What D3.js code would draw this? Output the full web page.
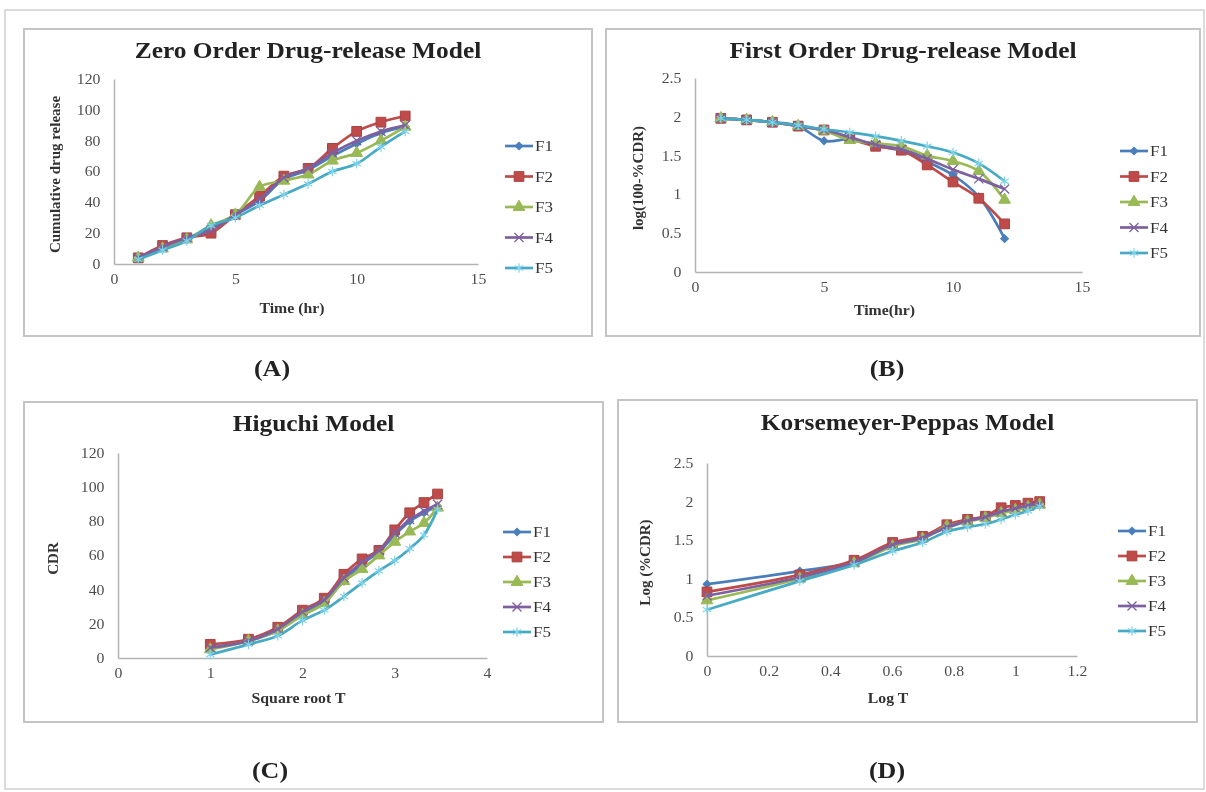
<html lang="en">
  <head>
    <title>Drug release kinetics models</title>
    <script src="https://d3js.org/d3.v7.min.js"></script>
    <style>
      body { margin: 0; background: #fff; }
      svg text { font-family: 'Liberation Serif', 'Times New Roman', serif; }
    </style>
  </head>
  <body>
    <div id="container"></div>
    <script>
      // series names + colours (Excel 2007 palette)
      const seriesNames = ['F1', 'F2', 'F3', 'F4', 'F5']
      const lineColors = ['#4A7EBB', '#BE4B48', '#98B954', '#7D60A0', '#46AAC5']
      const markerTypes = ['diamond', 'square', 'triangle', 'times', 'star']

      // x values
      const timeHr = [1, 2, 3, 4, 5, 6, 7, 8, 9, 10, 11, 12]
      const sqrtTime = [1, 1.414, 1.732, 2, 2.236, 2.449, 2.646, 2.828, 3, 3.162, 3.317, 3.464]
      const logTime = [0, 0.301, 0.477, 0.602, 0.699, 0.778, 0.845, 0.903, 0.954, 1.0, 1.041, 1.079]

      // (A) zero order: cumulative drug release vs time, rows F1..F5
      const zeroOrder = [
        [4, 10, 16, 23, 32, 41, 55, 61, 70, 78, 85, 89],
        [4, 12, 17, 20, 32, 44, 57, 62, 75, 86, 92, 96],
        [4, 10, 16, 25, 32, 50, 54, 58, 67, 72, 80, 89],
        [4, 11, 17, 22, 32, 42, 56, 62, 72, 80, 86, 90],
        [3, 9, 15, 25, 30, 38, 45, 52, 60, 65, 76, 86]
      ]
      // (B) first order: log(100-%CDR) vs time
      const firstOrder = [
        [1.98, 1.96, 1.93, 1.88, 1.69, 1.71, 1.63, 1.56, 1.42, 1.25, 0.97, 0.43],
        [1.98, 1.96, 1.93, 1.88, 1.83, 1.72, 1.62, 1.57, 1.38, 1.16, 0.95, 0.62],
        [1.98, 1.96, 1.93, 1.88, 1.82, 1.70, 1.66, 1.62, 1.50, 1.43, 1.30, 0.93],
        [1.98, 1.96, 1.93, 1.88, 1.83, 1.74, 1.64, 1.58, 1.46, 1.32, 1.20, 1.07],
        [1.98, 1.96, 1.93, 1.89, 1.84, 1.80, 1.75, 1.69, 1.62, 1.54, 1.40, 1.17]
      ]
      // (C) Higuchi: CDR vs square root of time
      const higuchi = [
        [6, 10, 16, 26, 33, 45, 55, 62, 72, 80, 85, 89],
        [8, 11, 18, 28, 35, 49, 58, 63, 75, 85, 91, 96],
        [5, 10, 16, 25, 32, 45, 52, 60, 68, 74, 79, 88],
        [6, 10, 17, 27, 34, 47, 56, 63, 73, 81, 86, 90],
        [2, 8, 13, 22, 28, 36, 44, 51, 57, 64, 72, 87]
      ]
      // (D) Korsmeyer-Peppas: log(%CDR) vs log T
      const peppas = [
        [0.93, 1.10, 1.22, 1.45, 1.54, 1.66, 1.75, 1.80, 1.86, 1.90, 1.94, 1.96],
        [0.83, 1.05, 1.24, 1.47, 1.55, 1.70, 1.77, 1.81, 1.92, 1.95, 1.98, 2.00],
        [0.72, 1.00, 1.20, 1.42, 1.52, 1.68, 1.74, 1.79, 1.85, 1.89, 1.93, 1.96],
        [0.78, 1.02, 1.21, 1.44, 1.53, 1.67, 1.75, 1.80, 1.87, 1.91, 1.95, 1.97],
        [0.60, 0.97, 1.18, 1.36, 1.47, 1.61, 1.67, 1.71, 1.77, 1.83, 1.88, 1.94]
      ]

      // axis ticks
      const ticksTime = [0, 5, 10, 15]
      const ticksCdr = [0, 20, 40, 60, 80, 100, 120]
      const ticksLog = [0, 0.5, 1, 1.5, 2, 2.5]
      const ticksSqrt = [0, 1, 2, 3, 4]
      const ticksLogT = [0, 0.2, 0.4, 0.6, 0.8, 1, 1.2]

      const panels = [
        { label: '(A)', title: 'Zero Order Drug-release Model', xTitle: 'Time (hr)', yTitle: 'Cumulative  drug  release',
          xs: timeHr, ys: zeroOrder, xTicks: ticksTime, yTicks: ticksCdr,
          box: [24, 29, 568, 307], plot: [114, 478, 264, 79], titleY: 58, xTitleY: 313, yTitleX: 60,
          legend: [505, 146, 30.5], labelPos: [272, 376] },
        { label: '(B)', title: 'First Order Drug-release Model', xTitle: 'Time(hr)', yTitle: 'log(100-%CDR)',
          xs: timeHr, ys: firstOrder, xTicks: ticksTime, yTicks: ticksLog,
          box: [606, 29, 594, 307], plot: [695, 1082, 272, 78], titleY: 58, xTitleY: 315, yTitleX: 643,
          legend: [1120, 151, 25.5], labelPos: [887, 376] },
        { label: '(C)', title: 'Higuchi Model', xTitle: 'Square root T', yTitle: 'CDR',
          xs: sqrtTime, ys: higuchi, xTicks: ticksSqrt, yTicks: ticksCdr,
          box: [24, 402, 579, 320], plot: [118, 487, 658, 453], titleY: 431, xTitleY: 703, yTitleX: 58,
          legend: [503, 532, 25], labelPos: [270, 778] },
        { label: '(D)', title: 'Korsemeyer-Peppas Model', xTitle: 'Log T', yTitle: 'Log (%CDR)',
          xs: logTime, ys: peppas, xTicks: ticksLogT, yTicks: ticksLog,
          box: [618, 400, 579, 322], plot: [707, 1077, 656, 463], titleY: 430, xTitleY: 703, yTitleX: 650,
          legend: [1118, 531, 25], labelPos: [887, 778] }
      ]

      const stretch = 1.13   // the source picture is a little wider than tall

      const svg = d3.select('#container').append('svg')
        .attr('width', 1206)
        .attr('height', 792)

      // soft blur to mimic the scanned look
      svg.append('defs').append('filter')
        .attr('id', 'soft')
        .append('feGaussianBlur')
        .attr('stdDeviation', 0.55)

      const root = svg.append('g').attr('filter', 'url(#soft)')

      // outer frame
      root.append('rect')
        .attr('x', 5).attr('y', 10)
        .attr('width', 1199).attr('height', 779)
        .attr('fill', 'none')
        .attr('stroke', '#d0d0d0')
        .attr('stroke-width', 1.5)

      // horizontal text, widened a bit like the source
      let addText = (x, y, str, size, bold, color, anchor) => {
        return root.append('text')
          .attr('transform', `translate(${x},${y}) scale(${stretch},1)`)
          .attr('text-anchor', anchor || 'middle')
          .attr('font-size', size)
          .attr('font-weight', bold ? 'bold' : 'normal')
          .attr('fill', color)
          .text(str)
      }

      let drawMarker = (g, type, color, x, y) => {
        if (type === 'diamond') {
          g.append('path').attr('d', d3.symbol(d3.symbolSquare, 30)())
            .attr('transform', `translate(${x},${y}) rotate(45)`)
            .attr('fill', color).attr('stroke', color)
        } else if (type === 'square') {
          g.append('path').attr('d', d3.symbol(d3.symbolSquare, 95)())
            .attr('transform', `translate(${x},${y})`)
            .attr('fill', color).attr('stroke', d3.color(color).darker(0.3))
        } else if (type === 'triangle') {
          g.append('path').attr('d', d3.symbol(d3.symbolTriangle, 60)())
            .attr('transform', `translate(${x},${y})`)
            .attr('fill', color).attr('stroke', color)
        } else if (type === 'times') {
          g.append('path').attr('d', d3.symbol(d3.symbolTimes, 55)())
            .attr('transform', `translate(${x},${y})`)
            .attr('fill', 'none').attr('stroke', color).attr('stroke-width', 1.3)
        } else {
          g.append('path').attr('d', d3.symbol(d3.symbolAsterisk, 65)())
            .attr('transform', `translate(${x},${y})`)
            .attr('fill', 'none').attr('stroke', '#7fd3ea').attr('stroke-width', 1.2)
        }
      }

      panels.forEach(p => {
        const [bx, by, bw, bh] = p.box
        const [x0, x1, y0, y1] = p.plot
        // panel frame
        root.append('rect')
          .attr('x', bx).attr('y', by)
          .attr('width', bw).attr('height', bh)
          .attr('fill', '#fff')
          .attr('stroke', '#c4c4c4')
          .attr('stroke-width', 2)

        const x = d3.scaleLinear().domain(d3.extent(p.xTicks)).range([x0, x1])
        const y = d3.scaleLinear().domain(d3.extent(p.yTicks)).range([y0, y1])

        // axes (no tick marks, Excel style)
        const xAxis = root.append('g')
          .attr('transform', `translate(0,${y0})`)
          .call(d3.axisBottom(x).tickValues(p.xTicks).tickFormat(d3.format('~g'))
            .tickSize(0).tickPadding(10))
        const yAxis = root.append('g')
          .attr('transform', `translate(${x0},0)`)
          .call(d3.axisLeft(y).tickValues(p.yTicks).tickFormat(d3.format('~g'))
            .tickSize(0).tickPadding(12))
        ;[xAxis, yAxis].forEach(a => {
          a.select('.domain').attr('stroke', '#b3b3b3').attr('stroke-width', 1.5)
          a.selectAll('text')
            .attr('font-family', 'Liberation Serif')
            .attr('font-size', 14)
            .attr('fill', '#4d4d4d')
            .attr('transform', `scale(${stretch},1)`)
        })

        // titles
        addText(bx + bw / 2, p.titleY, p.title, 22.5, true, '#222')
        addText((x0 + x1) / 2 - 4, p.xTitleY, p.xTitle, 14, true, '#333')
        root.append('text')
          .attr('transform', `translate(${p.yTitleX},${(y0 + y1) / 2 + 3}) rotate(-90)`)
          .attr('text-anchor', 'middle')
          .attr('font-size', 15).attr('font-weight', 'bold').attr('fill', '#333')
          .text(p.yTitle)
        addText(p.labelPos[0], p.labelPos[1], p.label, 23, true, '#222')

        // series lines + markers
        const line = d3.line()
          .x(d => x(d[0])).y(d => y(d[1]))
          .curve(d3.curveCatmullRom.alpha(0.5))
        p.ys.forEach((vals, i) => {
          const pts = p.xs.map((xv, j) => [xv, vals[j]])
          const g = root.append('g')
          g.append('path')
            .attr('d', line(pts))
            .attr('fill', 'none')
            .attr('stroke', lineColors[i])
            .attr('stroke-width', 2.7)
          pts.forEach(d => drawMarker(g, markerTypes[i], lineColors[i], x(d[0]), y(d[1])))
        })

        // legend
        const [lx, ly, step] = p.legend
        seriesNames.forEach((name, i) => {
          const yy = ly + i * step
          root.append('line')
            .attr('x1', lx).attr('x2', lx + 28)
            .attr('y1', yy).attr('y2', yy)
            .attr('stroke', lineColors[i]).attr('stroke-width', 2.7)
          drawMarker(root, markerTypes[i], lineColors[i], lx + 14, yy)
          addText(lx + 30, yy + 5, name, 15, false, '#333', 'start')
        })
      })
    </script>
  </body>
</html>
